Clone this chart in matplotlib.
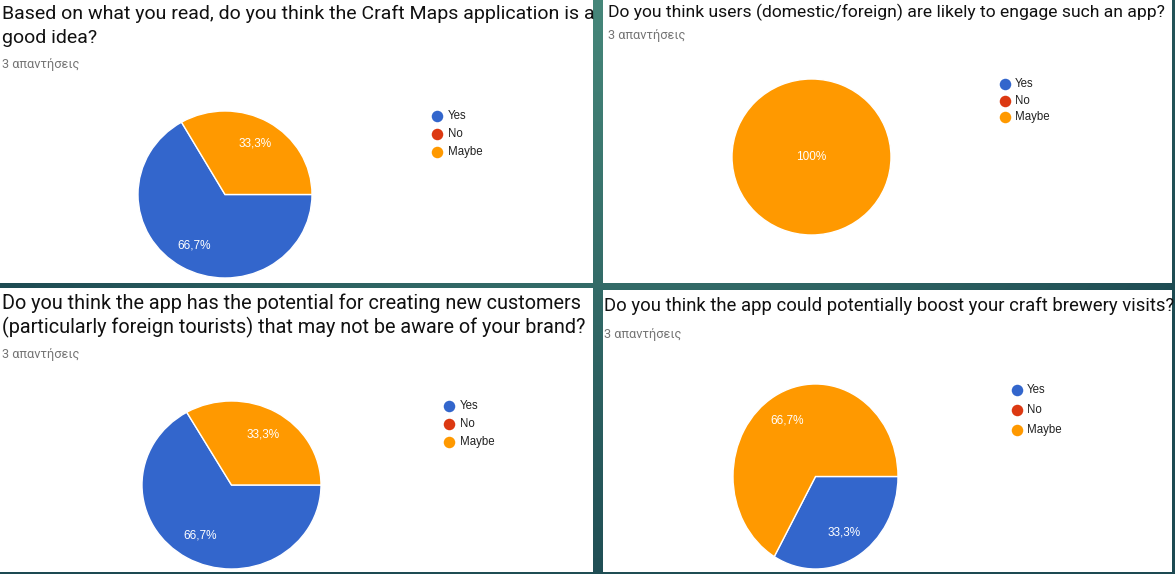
import numpy as np
import matplotlib
matplotlib.use('Agg')
import matplotlib.pyplot as plt
from matplotlib.patches import Rectangle
from matplotlib.colors import to_rgb

W, H = 1175, 574

# survey data (3 responses each)
categories = ['Yes', 'No', 'Maybe']
colors = ['#3366CC', '#DC3912', '#FF9900']
q1_counts = [2, 0, 1]
q2_counts = [0, 0, 3]
q3_counts = [2, 0, 1]
q4_counts = [1, 0, 2]
answers_label = '3 απαντήσεις'
q1_title = ['Based on what you read, do you think the Craft Maps application is a', 'good idea?']
q2_title = ['Do you think users (domestic/foreign) are likely to engage such an app?']
q3_title = ['Do you think the app has the potential for creating new customers',
            '(particularly foreign tourists) that may not be aware of your brand?']
q4_title = ['Do you think the app could potentially boost your craft brewery visits?']

TITLE_FONT = ['Roboto', 'DejaVu Sans']
CHART_FONT = ['Liberation Sans', 'DejaVu Sans']


def fx(x):
    return x / W


def fy(y):
    return 1 - y / H


def pct_fmt(p):
    if p <= 0:
        return ''
    if abs(p - 100) < 1e-6:
        return '100%'
    return ('%.1f%%' % p).replace('.', ',')


def panel(fig, x0, y0, x1, y1):
    fig.add_artist(Rectangle((fx(x0), fy(y1)), fx(x1 - x0), (y1 - y0) / H,
                             transform=fig.transFigure, facecolor='white',
                             edgecolor='none', zorder=1))


def header(fig, x, baselines, lines, sub_base, size):
    for yb, line in zip(baselines, lines):
        fig.text(fx(x), fy(yb), line, fontsize=size, family=TITLE_FONT,
                 color='#111111', va='baseline', ha='left', zorder=3)
    fig.text(fx(x), fy(sub_base), answers_label, fontsize=9.2, family=TITLE_FONT,
             color='#757575', va='baseline', ha='left', zorder=3)


def pie(fig, box, counts):
    x0, y0, x1, y1 = box
    ax = fig.add_axes([fx(x0), fy(y1), fx(x1 - x0), (y1 - y0) / H], zorder=4)
    vals = [v for v in counts if v > 0]
    cols = [c for v, c in zip(counts, colors) if v > 0]
    dist = 0.0 if len(vals) == 1 else 0.7
    ax.pie(vals, colors=cols, startangle=0, counterclock=False, radius=1,
           autopct=pct_fmt, pctdistance=dist,
           wedgeprops=dict(edgecolor='white', linewidth=1),
           textprops=dict(color='white', fontsize=8.5, family=CHART_FONT))
    ax.set_aspect('auto')
    ax.set_xlim(-1, 1)
    ax.set_ylim(-1, 1)
    ax.axis('off')


def legend(fig, mx, tx, ys):
    ax = fig.add_axes([0, 0, 1, 1], zorder=5)
    ax.set_xlim(0, W)
    ax.set_ylim(H, 0)
    ax.axis('off')
    for y, c, lab in zip(ys, colors, categories):
        ax.plot(mx, y, 'o', color=c, markersize=8.3, markeredgewidth=0)
        ax.text(tx, y, lab, fontsize=8.3, family=CHART_FONT, color='#222222',
                va='center', ha='left')


fig = plt.figure(figsize=(W / 100, H / 100), dpi=100)

# teal gradient background
bg = fig.add_axes([0, 0, 1, 1], zorder=0)
yy, xx = np.mgrid[0:H, 0:W]
d = np.sqrt((xx - 600.0) ** 2 + (yy * 1.1) ** 2) / 680.0
d = np.clip(d, 0, 1)[..., None]
c0 = np.array(to_rgb('#46877a'))
c1 = np.array(to_rgb('#1d4a52'))
img = c0 * (1 - d) + c1 * d
bg.imshow(img, aspect='auto', extent=[0, W, H, 0])
bg.axis('off')

panel(fig, 0, 0, 593, 283)
panel(fig, 603, 0, 1172, 283)
panel(fig, 0, 288, 593, 572)
panel(fig, 603, 290, 1172, 572)

header(fig, 2, [19, 43], q1_title, 68, 14.0)
header(fig, 608, [17], q2_title, 39, 12.6)
header(fig, 2, [309, 333], q3_title, 358, 14.3)
header(fig, 604, [311], q4_title, 338, 13.3)

pie(fig, (138, 111, 312, 278), q1_counts)
pie(fig, (732, 79, 891, 235), q2_counts)
pie(fig, (142, 401, 321, 569), q3_counts)
pie(fig, (733, 384, 898, 569), q4_counts)

legend(fig, 437, 448, [116, 134, 152])
legend(fig, 1005, 1015, [84, 101, 117])
legend(fig, 449, 460, [406, 424, 442])
legend(fig, 1016.5, 1027, [390, 410, 430])

fig.savefig('out.png', dpi=100)
